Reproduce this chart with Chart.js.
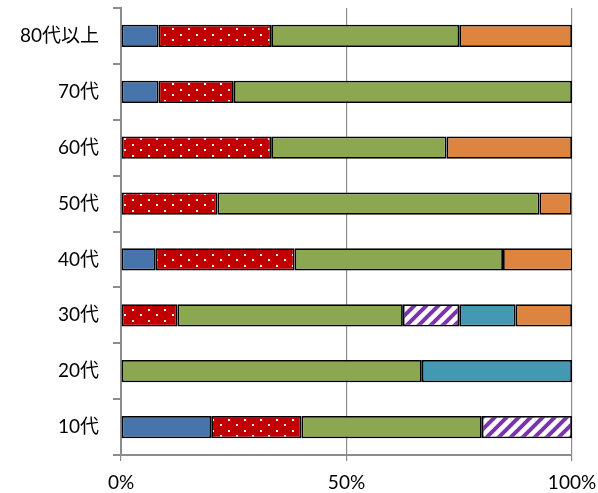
<!DOCTYPE html>
<html>
<head>
<meta charset="utf-8">
<script src="https://cdn.jsdelivr.net/npm/chart.js@4"></script>
<style>
  html, body { margin: 0; padding: 0; background: #fff; }
  #wrap { width: 598px; height: 493px; }
</style>
</head>
<body>
<div id="wrap"><canvas id="grafico" width="598" height="493"></canvas></div>
<script>
// categorías (de arriba a abajo)
const categorias = ['80代以上', '70代', '60代', '50代', '40代', '30代', '20代', '10代'];

// valores en % por serie (null = sin segmento)
const serieAzul    = [8.3, 8.3, null, null, 7.7, null, null, 20];
const serieRoja    = [25, 16.7, 33.3, 21.4, 30.8, 12.5, null, 20];
const serieVerde   = [41.7, 75, 38.9, 71.4, 46.2, 50, 66.7, 40];
const serieMorada  = [null, null, null, null, null, 12.5, null, 20];
const serieCeleste = [null, null, null, null, null, 12.5, 33.3, null];
const serieNaranja = [25, null, 27.8, 7.1, 15.4, 12.5, null, null];

const ticksX = [0, 50, 100];

// patrón de puntos blancos sobre rojo
const patronPuntos = () => {
  const c = document.createElement('canvas');
  c.width = 16; c.height = 11;
  const g = c.getContext('2d');
  g.fillStyle = '#C00000';
  g.fillRect(0, 0, 16, 11);
  g.fillStyle = '#ffffff';
  g.fillRect(4, 1, 2, 2);
  g.fillRect(12, 6, 2, 2);
  return g.createPattern(c, 'repeat');
};

// patrón de rayas diagonales moradas
const patronRayas = () => {
  const s = 12;
  const c = document.createElement('canvas');
  c.width = s; c.height = s;
  const g = c.getContext('2d');
  g.fillStyle = '#ffffff';
  g.fillRect(0, 0, s, s);
  g.strokeStyle = '#7A35A8';
  g.lineWidth = 4;
  g.beginPath();
  g.moveTo(-s / 2, s / 2); g.lineTo(s / 2, -s / 2);
  g.moveTo(0, s); g.lineTo(s, 0);
  g.moveTo(s / 2, s * 1.5); g.lineTo(s * 1.5, s / 2);
  g.stroke();
  return g.createPattern(c, 'repeat');
};

const fuente = 'Lato, "Noto Sans CJK JP", sans-serif';

const base = {
  borderColor: '#000000',
  borderWidth: 1.8,
  borderSkipped: false,
  barPercentage: 0.4,
  categoryPercentage: 1
};

new Chart(document.getElementById('grafico'), {
  type: 'bar',
  data: {
    labels: categorias,
    datasets: [
      { ...base, label: 'A', data: serieAzul, backgroundColor: '#4674AB' },
      { ...base, label: 'B', data: serieRoja, backgroundColor: patronPuntos() },
      { ...base, label: 'C', data: serieVerde, backgroundColor: '#8BA752' },
      { ...base, label: 'D', data: serieMorada, backgroundColor: patronRayas() },
      { ...base, label: 'E', data: serieCeleste, backgroundColor: '#4399B1' },
      { ...base, label: 'F', data: serieNaranja, backgroundColor: '#DE8441' }
    ]
  },
  options: {
    indexAxis: 'y',
    responsive: false,
    animation: false,
    layout: { padding: { top: 8, right: 26, left: 0, bottom: 0 } },
    plugins: {
      legend: { display: false },
      tooltip: { enabled: false }
    },
    scales: {
      x: {
        stacked: true,
        min: 0,
        max: 100,
        afterBuildTicks: s => { s.ticks = ticksX.map(v => ({ value: v })); },
        afterFit: s => { s.height = 38; s.paddingLeft = 0; s.paddingRight = 0; },
        grid: { color: '#8c8c8c', lineWidth: 1.2, tickLength: 6 },
        border: { color: '#8c8c8c', width: 2 },
        ticks: {
          color: '#000',
          padding: 10,
          font: { family: fuente, size: 19 },
          callback: v => v + '%'
        }
      },
      y: {
        stacked: true,
        afterFit: s => { s.width = 121; s.paddingTop = 0; s.paddingBottom = 0; },
        grid: { drawOnChartArea: false, color: '#8c8c8c', lineWidth: 2, tickLength: 8, offset: true },
        border: { color: '#8c8c8c', width: 2 },
        ticks: {
          color: '#000',
          padding: 14,
          font: { family: fuente, size: 19 }
        }
      }
    }
  }
});
</script>
</body>
</html>
